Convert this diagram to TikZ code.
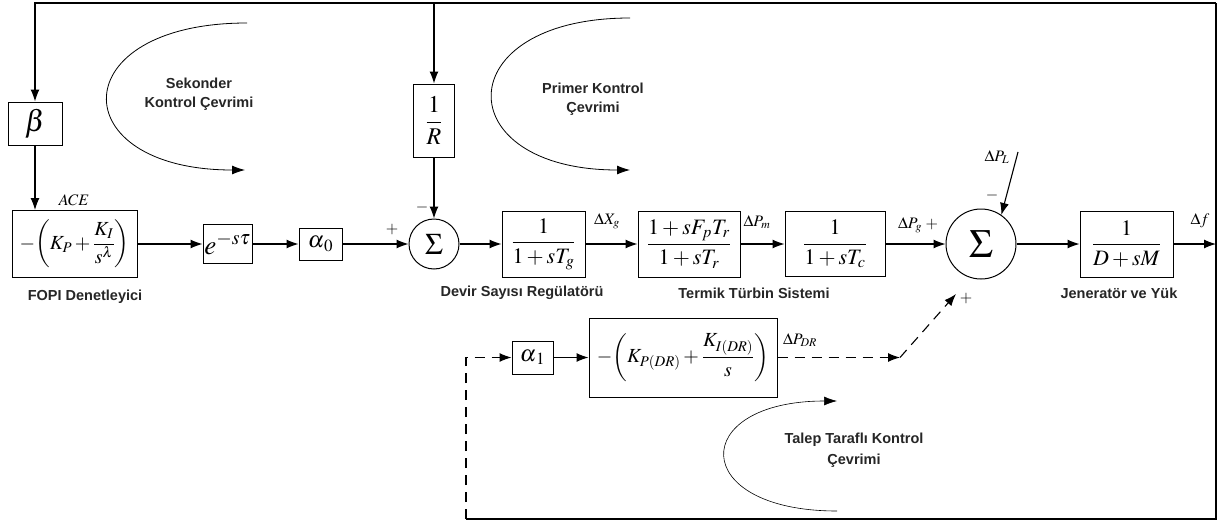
\documentclass[tikz,border=0pt]{standalone}
\usepackage{mathptmx}
\usepackage[no-math]{fontspec}
\setmainfont{Liberation Sans}
\usetikzlibrary{arrows.meta,calc}
\tikzset{
  blk/.style={draw, line width=1pt, inner sep=0pt, fill=white},
  sumc/.style={draw, circle, line width=1pt, inner sep=0pt},
  lbl/.style={font=\fontsize{14.5}{19}\selectfont\bfseries, align=center, text=black!85},
  mlbl/.style={font=\fontsize{16}{18}\selectfont, inner sep=0pt},
  sig/.style={line width=1.1pt, -{Latex[length=12pt,width=9pt]}},
  loopar/.style={line width=0.8pt, -{Latex[length=13pt,width=9pt]}},
  dsh/.style={sig, dash pattern=on 10pt off 7pt}
}
\begin{document}
\begin{tikzpicture}[x=1pt,y=-1pt]
\fill[white] (0,0) rectangle (1219,525);
\useasboundingbox (0,0) rectangle (1219,525);

% blocks
\node[blk, minimum width=54pt, minimum height=43pt, font=\fontsize{30}{32}\selectfont] (B) at (35,123.5) {$\beta$};
\node[blk, minimum width=125pt, minimum height=67pt, font=\fontsize{20}{22}\selectfont] (F) at (74.5,244) {$-\!\left(K_P+\displaystyle\frac{K_I}{s^{\lambda}}\right)$};
\node[blk, minimum width=49pt, minimum height=39pt, font=\fontsize{27}{28}\selectfont] (E) at (227.5,244) {$e^{-s\tau}$};
\node[blk, minimum width=43pt, minimum height=32pt, font=\fontsize{23}{24}\selectfont] (A0) at (320.5,244) {$\alpha_{\,0}$};
\node[sumc, minimum size=50pt, font=\fontsize{30}{32}\selectfont] (S1) at (434,244) {$\Sigma$};
\node[blk, minimum width=41pt, minimum height=73pt, font=\fontsize{24}{26}\selectfont] (R) at (434,120.5) {$\displaystyle\frac{1}{R}$};
\node[blk, minimum width=83pt, minimum height=66pt, font=\fontsize{22}{24}\selectfont] (G) at (543.5,244) {$\displaystyle\frac{1}{1+sT_g}$};
\node[blk, minimum width=102pt, minimum height=66pt, font=\fontsize{22}{24}\selectfont] (T) at (689,244) {$\displaystyle\frac{1+sF_pT_r}{1+sT_r}$};
\node[blk, minimum width=100pt, minimum height=65pt, font=\fontsize{22}{24}\selectfont] (C) at (835,244) {$\displaystyle\frac{1}{1+sT_c}$};
\node[sumc, minimum size=70pt, font=\fontsize{40}{42}\selectfont] (S2) at (981,244) {$\Sigma$};
\node[blk, minimum width=93pt, minimum height=66pt, font=\fontsize{22}{24}\selectfont] (M) at (1126.5,244) {$\displaystyle\frac{1}{D+sM}$};
\node[blk, minimum width=41pt, minimum height=33pt, font=\fontsize{23}{24}\selectfont] (A1) at (532.5,357.5) {$\alpha_{\,1}$};
\node[blk, minimum width=188pt, minimum height=79pt, font=\fontsize{20}{22}\selectfont] (DR) at (683,357.5) {$-\!\left(K_{P(DR)}+\displaystyle\frac{K_{I(DR)}}{s}\right)$};

% coordinates
\coordinate (TR) at (1216,3);
\coordinate (Fo) at (1216,244);
\coordinate (BR) at (1216,519);
\coordinate (BL) at (466,519);
\coordinate (C1) at (900,357.5);
\coordinate (DRt) at (956,294);
\coordinate (PL) at (1018,152);

% connectors
\draw[sig] (TR) -| (B.north);
\draw[sig] (R.north |- TR) -- (R.north);
\draw[sig] (B.south) -- (B.south |- F.north);
\draw[sig] (F.east) -- (E.west);
\draw[sig] (E.east) -- (A0.west);
\draw[sig] (A0.east) -- (S1.west);
\draw[sig] (R.south) -- (S1.north);
\draw[sig] (S1.east) -- (G.west);
\draw[sig] (G.east) -- (T.west);
\draw[sig] (T.east) -- (C.west);
\draw[sig] (C.east) -- (S2.west);
\draw[sig] (S2.east) -- (M.west);
\draw[sig] (M.east) -- (Fo);
\draw[line width=1.1pt] (Fo) -- (TR);
\draw[line width=1.1pt] (Fo) -- (BR) -- (BL);
\draw[dsh] (BL) -- (BL |- A1) -- (A1.west);
\draw[sig] (A1.east) -- (DR.west);
\draw[dsh] (DR.east) -- (C1);
\draw[dsh] (C1) -- (DRt);
\draw[sig] (PL) -- (S2.55);

% loop arrows
\draw[loopar] (247,23) .. controls (62,23) and (62,170) .. (245,170);
\draw[loopar] (630,18) .. controls (447,18) and (447,170) .. (630,170);
\draw[loopar, line width=0.6pt] (837,511) .. controls (688,511) and (688,401) .. (837,401);

% signal labels
\node[mlbl] (lace) at (74,200) {$ACE$};
\node[mlbl] (lxg) at (607,221) {$\Delta X_g$};
\node[mlbl] (lpm) at (757,222) {$\Delta P_m$};
\node[mlbl] (lpg) at (918,225) {$\Delta P_g\;{+}$};
\node[mlbl] (lpl) at (997,157) {$\Delta P_L$};
\node[mlbl] (lf) at (1200,221) {$\Delta f$};
\node[mlbl] (lpdr) at (800,340) {$\Delta P_{DR}$};
\node[mlbl] (m1) at (422,207) {$-$};
\node[mlbl] (p1) at (392,230) {$+$};
\node[mlbl] (m2) at (992,195) {$-$};
\node[mlbl] (p2) at (966,299) {$+$};

% text labels
\node[lbl] (t1) at (199,94) {Sekonder\\Kontrol Çevrimi};
\node[lbl] (t2) at (593,99) {Primer Kontrol\\Çevrimi};
\node[lbl, font=\fontsize{14.5}{21}\selectfont\bfseries] (t3) at (854,450) {Talep Taraflı Kontrol\\Çevrimi};
\node[lbl] (t4) at (85,297) {FOPI Denetleyici};
\node[lbl] (t5) at (522,293) {Devir Sayısı Regülatörü};
\node[lbl] (t6) at (754,293) {Termik Türbin Sistemi};
\node[lbl] (t7) at (1119,293) {Jeneratör ve Yük};
\end{tikzpicture}
\end{document}
